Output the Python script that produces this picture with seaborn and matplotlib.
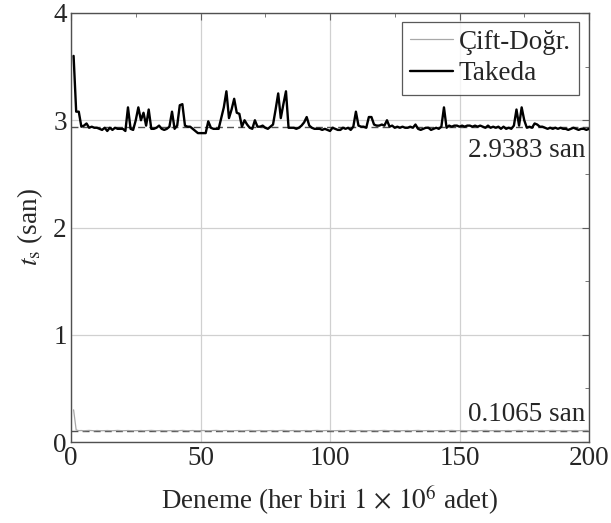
import matplotlib.pyplot as plt
import matplotlib.ticker as mticker
import pandas as pd
import seaborn as sns

# ---- data ----
deneme = list(range(1, 201))

takeda = [
    3.60, 3.08, 3.08, 2.94, 2.95, 2.97, 2.93, 2.94, 2.93, 2.93,
    2.92, 2.91, 2.93, 2.90, 2.93, 2.91, 2.93, 2.92, 2.92, 2.92,
    2.90, 3.12, 2.92, 2.91, 3.00, 3.12, 3.00, 3.07, 2.95, 3.10,
    2.92, 2.92, 2.93, 2.95, 2.92, 2.91, 2.92, 2.94, 3.08, 2.92,
    2.95, 3.14, 3.15, 2.95, 2.94, 2.94, 2.92, 2.90, 2.88, 2.88,
    2.88, 2.88, 2.99, 2.93, 2.92, 2.92, 2.92, 3.02, 3.12, 3.27,
    3.02, 3.10, 3.20, 3.07, 3.06, 2.94, 3.00, 2.96, 2.93, 2.92,
    3.00, 2.94, 2.94, 2.95, 2.93, 2.92, 2.94, 2.96, 3.10, 3.25,
    3.02, 3.15, 3.27, 2.93, 2.93, 2.93, 2.92, 2.93, 2.95, 2.98,
    3.03, 2.95, 2.93, 2.92, 2.92, 2.92, 2.91, 2.92, 2.91, 2.90,
    2.93, 2.92, 2.91, 2.91, 2.93, 2.92, 2.93, 2.91, 2.94, 3.08,
    2.95, 2.94, 2.94, 2.93, 3.03, 3.03, 2.96, 2.95, 2.95, 2.96,
    2.95, 3.00, 2.94, 2.95, 2.93, 2.94, 2.93, 2.94, 2.93, 2.93,
    2.94, 2.93, 2.96, 2.92, 2.91, 2.92, 2.93, 2.93, 2.91, 2.92,
    2.93, 2.92, 2.94, 3.12, 2.93, 2.95, 2.94, 2.95, 2.95, 2.94,
    2.95, 2.94, 2.95, 2.95, 2.94, 2.95, 2.94, 2.95, 2.94, 2.93,
    2.95, 2.93, 2.94, 2.93, 2.94, 2.92, 2.94, 2.92, 2.93, 2.92,
    2.95, 3.10, 2.95, 3.12, 3.00, 2.93, 2.94, 2.93, 2.97, 2.96,
    2.94, 2.94, 2.93, 2.92, 2.93, 2.92, 2.93, 2.92, 2.93, 2.92,
    2.92, 2.91, 2.92, 2.93, 2.92, 2.91, 2.92, 2.92, 2.91, 2.92,
]

cift_dogr = [
    0.300, 0.112, 0.106, 0.107, 0.105, 0.106, 0.108, 0.106, 0.105, 0.107,
    0.106, 0.105, 0.106, 0.107, 0.106, 0.105, 0.106, 0.108, 0.106, 0.105,
    0.106, 0.107, 0.106, 0.105, 0.106, 0.106, 0.107, 0.105, 0.106, 0.106,
    0.108, 0.106, 0.105, 0.106, 0.107, 0.106, 0.105, 0.106, 0.106, 0.107,
    0.105, 0.106, 0.108, 0.106, 0.105, 0.106, 0.107, 0.106, 0.105, 0.106,
    0.107, 0.106, 0.105, 0.106, 0.106, 0.108, 0.106, 0.105, 0.106, 0.107,
    0.106, 0.105, 0.106, 0.106, 0.107, 0.105, 0.106, 0.106, 0.108, 0.106,
    0.105, 0.106, 0.107, 0.106, 0.105, 0.106, 0.106, 0.107, 0.105, 0.106,
    0.106, 0.108, 0.106, 0.105, 0.106, 0.107, 0.106, 0.105, 0.106, 0.106,
    0.107, 0.105, 0.106, 0.106, 0.108, 0.106, 0.105, 0.106, 0.107, 0.106,
    0.105, 0.106, 0.106, 0.107, 0.105, 0.106, 0.106, 0.108, 0.106, 0.105,
    0.106, 0.107, 0.106, 0.105, 0.106, 0.106, 0.107, 0.105, 0.106, 0.106,
    0.108, 0.106, 0.105, 0.106, 0.107, 0.106, 0.105, 0.106, 0.106, 0.107,
    0.105, 0.106, 0.106, 0.108, 0.106, 0.105, 0.106, 0.107, 0.106, 0.105,
    0.106, 0.106, 0.107, 0.105, 0.106, 0.106, 0.108, 0.106, 0.105, 0.106,
    0.107, 0.106, 0.105, 0.106, 0.106, 0.107, 0.105, 0.106, 0.106, 0.108,
    0.106, 0.105, 0.106, 0.107, 0.106, 0.105, 0.106, 0.106, 0.107, 0.105,
    0.106, 0.106, 0.108, 0.106, 0.105, 0.106, 0.107, 0.106, 0.105, 0.106,
    0.106, 0.107, 0.105, 0.106, 0.106, 0.108, 0.106, 0.105, 0.106, 0.107,
    0.106, 0.105, 0.106, 0.106, 0.107, 0.105, 0.106, 0.106, 0.108, 0.106,
]

ortalama_takeda = 2.9383
ortalama_cift = 0.1065

# ---- style ----
sns.set_theme(style="white")
plt.rcParams['font.family'] = ['Liberation Serif', 'DejaVu Serif']
plt.rcParams['mathtext.fontset'] = 'stix'
FS = 19.5

df = pd.DataFrame({"Deneme": deneme, "Takeda": takeda, "Cift": cift_dogr})

fig = plt.figure(figsize=(6.11, 5.23), dpi=100)
ax = fig.add_axes([71 / 611, 1 - 442 / 523, (589 - 71) / 611, (442 - 13) / 523])

# grid at major ticks
ax.grid(True, which="major", color="#d0d0d0", linewidth=0.9)
ax.set_axisbelow(True)

# mean lines (dashed)
ax.axhline(ortalama_takeda, color="#505050", linestyle=(0, (5, 3)), linewidth=1.0, zorder=2)
ax.axhline(ortalama_cift, color="#505050", linestyle=(0, (5, 3)), linewidth=1.0, zorder=2)

sns.lineplot(data=df, x="Deneme", y="Cift", ax=ax, color="#a8a8a8",
             linewidth=0.9, label="Çift-Doğr.", zorder=3)
sns.lineplot(data=df, x="Deneme", y="Takeda", ax=ax, color="black",
             linewidth=1.7, label="Takeda", zorder=4)

ax.text(198.5, 2.72, f"{ortalama_takeda:.4f} san", ha="right", va="center", fontsize=FS)
ax.text(198.5, 0.26, f"{ortalama_cift:.4f} san", ha="right", va="center", fontsize=FS)

ax.set_xlim(0, 200)
ax.set_ylim(0, 4)
ax.xaxis.set_major_locator(mticker.MultipleLocator(50))
ax.xaxis.set_minor_locator(mticker.MultipleLocator(25))
ax.yaxis.set_major_locator(mticker.MultipleLocator(1))
ax.yaxis.set_minor_locator(mticker.MultipleLocator(0.5))
ax.tick_params(which="both", direction="in", top=True, right=True,
               color="#606060", labelsize=FS)
ax.tick_params(which="major", length=5, width=0.8, pad=3)
ax.tick_params(which="minor", length=3, width=0.6)

for s in ax.spines.values():
    s.set_color("#505050")
    s.set_linewidth(1.0)

ax.set_xlabel(r"Deneme (her biri $1\,\times\,10^6$ adet)", fontsize=FS, labelpad=9)
ax.set_ylabel(r"$t_{\mathrm{s}}$ (san)", fontsize=FS, labelpad=6)

leg = ax.legend(loc="upper right", bbox_to_anchor=(0.98, 0.98), borderaxespad=0,
                fontsize=FS, frameon=True, fancybox=False, edgecolor="#303030",
                handlelength=1.6, handletextpad=0.2, labelspacing=0.25,
                borderpad=0.3)
leg.get_frame().set_linewidth(0.9)

fig.savefig("out.png", dpi=100)
